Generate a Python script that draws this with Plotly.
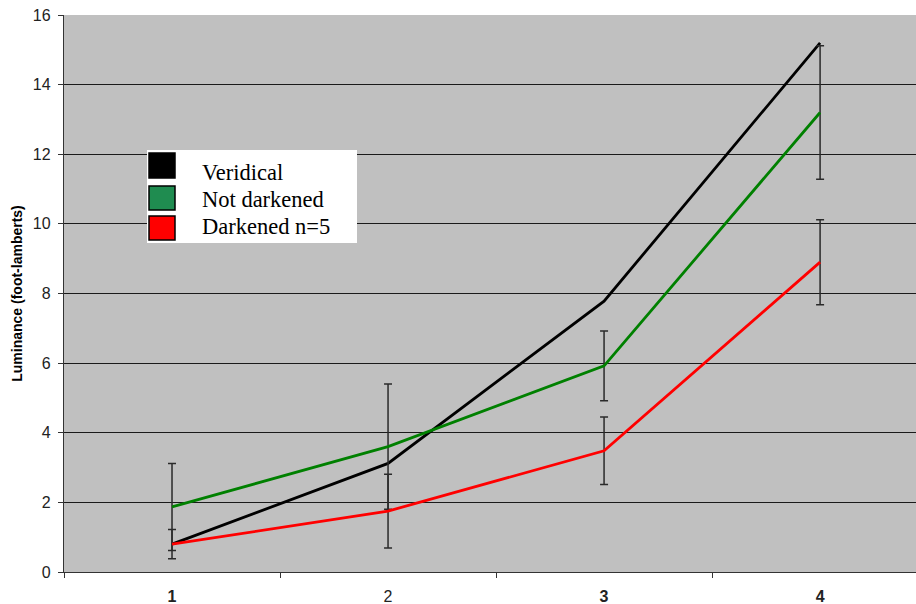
import plotly.graph_objects as go

# Stimulus levels and measured luminance (foot-lamberts)
levels = ["1", "2", "3", "4"]
level_labels = ["<b>1</b>", "2", "<b>3</b>", "<b>4</b>"]
veridical = [0.80, 3.12, 7.78, 15.2]
not_darkened = [1.87, 3.60, 5.92, 13.2]
not_darkened_err = [1.25, 1.80, 1.00, 1.92]
darkened = [0.80, 1.75, 3.48, 8.90]
darkened_err = [0.42, 1.06, 0.97, 1.22]
y_ticks = [0, 2, 4, 6, 8, 10, 12, 14, 16]

series_names = ["Veridical", "Not darkened", "Darkened n=5"]
line_colors = ["#000000", "#008000", "#ff0000"]
swatch_colors = ["#000000", "#1f8c50", "#ff0000"]

W, H = 916, 604
PL, PT, PR, PB = 64, 15, 0, 32
PW, PH = W - PL - PR, H - PT - PB


def fx(px):
    return (px - PL) / PW


def fy(py):
    return (PT + PH - py) / PH


err_style = dict(type="data", visible=True, color="#2a2a2a", thickness=1.5, width=4)

fig = go.Figure()
fig.add_trace(go.Scatter(x=levels, y=veridical, mode="lines", name=series_names[0],
                         line=dict(color=line_colors[0], width=2.8)))
fig.add_trace(go.Scatter(x=levels, y=not_darkened, mode="lines", name=series_names[1],
                         line=dict(color=line_colors[1], width=2.8),
                         error_y=dict(array=not_darkened_err, **err_style)))
fig.add_trace(go.Scatter(x=levels, y=darkened, mode="lines", name=series_names[2],
                         line=dict(color=line_colors[2], width=2.8),
                         error_y=dict(array=darkened_err, **err_style)))

# Legend box drawn as shapes + text
shapes = [dict(type="rect", xref="paper", yref="paper",
               x0=fx(147), x1=fx(357), y0=fy(243), y1=fy(150),
               fillcolor="white", line=dict(width=0), layer="above")]
annotations = []
sq_rows = [(153, 178), (186, 210), (216, 240)]
txt_rows = [172, 199, 226]
for name, col, (t, b), ty in zip(series_names, swatch_colors, sq_rows, txt_rows):
    shapes.append(dict(type="rect", xref="paper", yref="paper",
                       x0=fx(149), x1=fx(175), y0=fy(b), y1=fy(t),
                       fillcolor=col, line=dict(color="#000000", width=1.5), layer="above"))
    annotations.append(dict(xref="paper", yref="paper", x=fx(200), y=fy(ty),
                            xanchor="left", yanchor="middle", showarrow=False, text=name,
                            font=dict(family="Liberation Serif", size=22.5, color="#000000")))

fig.update_layout(
    width=W, height=H,
    margin=dict(l=PL, r=PR, t=PT, b=PB, pad=0),
    paper_bgcolor="white",
    plot_bgcolor="#c0c0c0",
    showlegend=False,
    shapes=shapes,
    annotations=annotations,
    xaxis=dict(type="category", range=[-0.5, 3.444], tickson="boundaries",
               tickvals=levels, ticktext=level_labels,
               ticks="outside", ticklen=5, tickwidth=1.3, tickcolor="#333333",
               showgrid=False, showline=True, linecolor="#333333", linewidth=1.3,
               zeroline=False, ticklabelstandoff=10,
               tickfont=dict(family="Arial", size=16, color="#222222")),
    yaxis=dict(range=[0, 16], tickvals=y_ticks, ticks="outside", ticklen=5,
               tickwidth=1.3, tickcolor="#333333",
               showgrid=True, gridcolor="#1a1a1a", gridwidth=1.3,
               showline=True, linecolor="#333333", linewidth=1.3, zeroline=False,
               ticklabelstandoff=4,
               tickfont=dict(family="Arial", size=16, color="#222222"),
               title=dict(text="<b>Luminance (foot-lamberts)</b>", standoff=6,
                          font=dict(family="Arial", size=14, color="#000000"))),
)

fig.write_html("out.html")
